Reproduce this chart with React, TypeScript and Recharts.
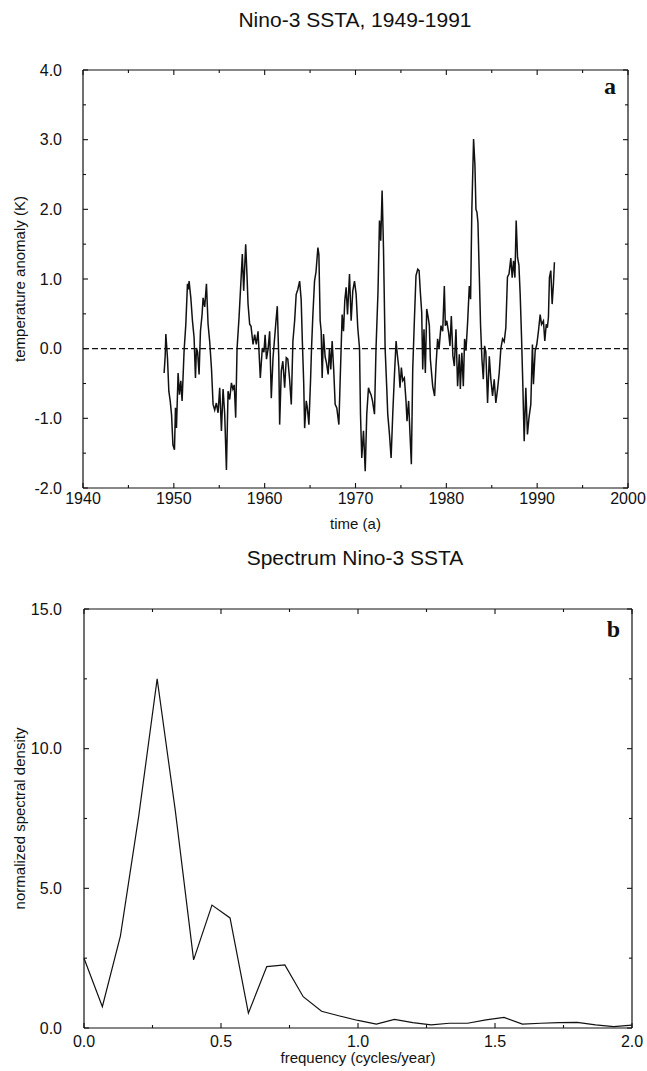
import React from 'react';
import { LineChart, Line, XAxis, YAxis, ReferenceLine, Label } from 'recharts';

// Nino-3 SSTA monthly-ish series (decimal year, K)
const time = [
  1948.93, 1949.05, 1949.12, 1949.3, 1949.45, 1949.6, 1949.75, 1949.9, 1950.07, 1950.18,
  1950.29, 1950.47, 1950.62, 1950.77, 1950.91, 1951.13, 1951.32, 1951.5, 1951.6, 1951.68,
  1951.87, 1952.05, 1952.23, 1952.38, 1952.49, 1952.62, 1952.78, 1952.93, 1953.11, 1953.22,
  1953.4, 1953.59, 1953.77, 1953.95, 1954.15, 1954.32, 1954.5, 1954.68, 1954.87, 1955.05,
  1955.24, 1955.42, 1955.6, 1955.79, 1955.97, 1956.15, 1956.34, 1956.5, 1956.65, 1956.81,
  1956.96, 1957.18, 1957.43, 1957.54, 1957.69, 1957.91, 1958.05, 1958.17, 1958.35, 1958.5,
  1958.72, 1958.9, 1959.08, 1959.27, 1959.52, 1959.74, 1959.92, 1960.05, 1960.2, 1960.38,
  1960.55, 1960.73, 1960.92, 1961.1, 1961.28, 1961.39, 1961.55, 1961.65, 1961.83, 1962.0,
  1962.2, 1962.38, 1962.55, 1962.75, 1962.93, 1963.11, 1963.3, 1963.47, 1963.65, 1963.85,
  1964.02, 1964.15, 1964.3, 1964.4, 1964.58, 1964.7, 1964.87, 1965.05, 1965.16, 1965.31,
  1965.49, 1965.65, 1965.86, 1965.97, 1966.11, 1966.22, 1966.33, 1966.48, 1966.66, 1966.8,
  1966.99, 1967.14, 1967.28, 1967.43, 1967.6, 1967.76, 1967.94, 1968.17, 1968.31, 1968.42,
  1968.53, 1968.68, 1968.82, 1968.97, 1969.12, 1969.34, 1969.52, 1969.7, 1969.89, 1970.07,
  1970.25, 1970.44, 1970.55, 1970.69, 1970.88, 1971.07, 1971.24, 1971.43, 1971.57, 1971.71,
  1971.87, 1972.09, 1972.26, 1972.48, 1972.64, 1972.78, 1972.93, 1973.08, 1973.26, 1973.44,
  1973.55, 1973.74, 1973.92, 1974.1, 1974.29, 1974.47, 1974.6, 1974.76, 1974.9, 1975.05,
  1975.2, 1975.38, 1975.56, 1975.67, 1975.85, 1976.0, 1976.15, 1976.3, 1976.48, 1976.66,
  1976.85, 1977.0, 1977.14, 1977.29, 1977.4, 1977.54, 1977.69, 1977.84, 1978.0, 1978.13,
  1978.24, 1978.5, 1978.71, 1978.86, 1979.04, 1979.2, 1979.41, 1979.6, 1979.78, 1979.89,
  1980.05, 1980.25, 1980.4, 1980.55, 1980.72, 1980.88, 1981.06, 1981.24, 1981.43, 1981.54,
  1981.71, 1981.87, 1982.01, 1982.16, 1982.34, 1982.53, 1982.67, 1982.81, 1983.0, 1983.15,
  1983.26, 1983.37, 1983.48, 1983.63, 1983.77, 1983.92, 1984.07, 1984.21, 1984.35, 1984.54,
  1984.73, 1984.9, 1985.09, 1985.27, 1985.45, 1985.64, 1985.82, 1986.0, 1986.19, 1986.37,
  1986.55, 1986.73, 1986.9, 1987.1, 1987.25, 1987.4, 1987.55, 1987.69, 1987.84, 1987.99,
  1988.13, 1988.28, 1988.42, 1988.57, 1988.75, 1988.93, 1989.1, 1989.3, 1989.48, 1989.59,
  1989.78, 1989.96, 1990.14, 1990.33, 1990.48, 1990.69, 1990.84, 1991.0, 1991.12, 1991.24,
  1991.35, 1991.5, 1991.65, 1991.79, 1991.9,
];
const ssta = [
  -0.35, -0.1, 0.21, -0.13, -0.61, -0.75, -0.95, -1.38, -1.45, -0.85,
  -1.14, -0.35, -0.66, -0.46, -0.75, -0.03, 0.35, 0.93, 0.85, 0.97,
  0.73, 0.4, 0.16, -0.42, 0.01, -0.05, -0.37, 0.25, 0.49, 0.73,
  0.6, 0.93, 0.35, 0.1, -0.3, -0.8, -0.88, -0.78, -0.92, -0.56,
  -1.18, -0.58, -0.94, -1.74, -0.61, -0.73, -0.49, -0.58, -0.52, -0.99,
  0.0, 0.45, 1.07, 1.36, 0.83, 1.5, 1.07, 0.64, 0.35, 0.32,
  0.06, 0.2, 0.06, 0.25, -0.42, 0.01, -0.05, 0.2, -0.15, 0.0,
  0.25, -0.71, -0.13, 0.16, 0.45, 0.61, -0.13, -1.09, -0.32, -0.18,
  -0.56, -0.13, -0.15, -0.45, -0.8, 0.11, 0.4, 0.78, 0.85, 0.97,
  0.7, 0.1, -0.5, -1.14, -0.75, -0.85, -1.09, -0.46, 0.01, 0.49,
  0.97, 1.1, 1.45, 1.35, 0.4, 0.25, -0.42, 0.21, -0.12, -0.2,
  -0.37, 0.01, -0.3, 0.11, -0.3, -0.8, -0.85, -1.09, -0.46, 0.01,
  0.49, 0.25, 0.69, 0.88, 0.49, 1.07, 0.4, 0.83, 0.97, 0.78,
  0.3, 0.01, -0.94, -1.57, -1.18, -1.76, -0.94, -0.56, -0.62, -0.66,
  -0.75, -0.94, 0.01, 0.83, 1.84, 1.55, 2.27, 1.45, 0.01, -0.56,
  -0.94, -1.23, -1.57, -0.94, -0.37, 0.11, -0.08, -0.27, -0.56, -0.27,
  -0.46, -0.42, -0.75, -1.04, -0.75, -1.23, -1.66, -0.3, 0.4, 1.05,
  1.14, 1.12, 0.81, 0.52, -0.3, 0.28, -0.35, 0.57, 0.45, 0.33,
  -0.15, -0.54, -0.68, -0.25, 0.14, 0.0, 0.33, 0.25, 0.9, 0.33,
  0.4, 0.23, 0.04, 0.47, -0.1, -0.25, 0.28, -0.54, -0.08, -0.58,
  -0.06, -0.54, 0.14, -0.03, 0.37, 0.9, 0.71, 2.0, 3.01, 2.63,
  2.0, 1.96, 1.81, 1.05, 0.33, -0.15, -0.44, 0.04, -0.05, -0.78,
  -0.11, -0.44, -0.68, -0.44, -0.78, -0.58, -0.35, 0.0, 0.14, 0.1,
  0.3, 1.03, 1.07, 1.3, 1.02, 1.26, 1.02, 1.84, 1.31, 1.2,
  0.78, 0.16, -0.51, -1.33, -0.56, -1.23, -0.99, -0.8, 0.06, -0.51,
  -0.03, 0.06, 0.25, 0.49, 0.35, 0.4, 0.11, 0.35, 0.3, 0.45,
  1.02, 1.12, 0.64, 0.93, 1.24,
];

// spectrum, panel b
const frequency = [
  0, 0.067, 0.133, 0.2, 0.267, 0.333, 0.4, 0.467, 0.533, 0.6,
  0.667, 0.733, 0.8, 0.867, 0.933, 1.0, 1.067, 1.133, 1.2, 1.267,
  1.333, 1.4, 1.467, 1.533, 1.6, 1.667, 1.733, 1.8, 1.867, 1.933, 2.0,
];
const density = [
  2.5, 0.76, 3.3, 7.6, 12.5, 7.8, 2.44, 4.4, 3.94, 0.53,
  2.2, 2.26, 1.12, 0.6, 0.43, 0.27, 0.14, 0.31, 0.19, 0.11,
  0.17, 0.17, 0.29, 0.38, 0.14, 0.17, 0.19, 0.2, 0.11, 0.05, 0.1,
];

const yearTicks = [1940, 1945, 1950, 1955, 1960, 1965, 1970, 1975, 1980, 1985, 1990, 1995, 2000];
const anomalyTicks = [-2, -1.5, -1, -0.5, 0, 0.5, 1, 1.5, 2, 2.5, 3, 3.5, 4];
const freqTicks = [0, 0.25, 0.5, 0.75, 1, 1.25, 1.5, 1.75, 2];
const densityTicks = [0, 2.5, 5, 7.5, 10, 12.5, 15];

const sstaData = time.map((t, i) => ({ t, v: ssta[i] }));
const specData = frequency.map((f, i) => ({ f, d: density[i] }));

const SANS = '"Liberation Sans", Arial, Helvetica, sans-serif';
const SERIF = '"Liberation Serif", "Times New Roman", serif';
const INK = '#111';
const TICK_FS = 16;

const isMajor = (v: number, step: number) => Math.abs(v / step - Math.round(v / step)) < 1e-6;

// tick renderers draw inward ticks; Recharts gives the label anchor, we back out the frame edge
const bottomTick = (step: number, gap: number, fmt: (v: number) => string) => (p: any) => {
  const major = isMajor(p.payload.value, step);
  const edge = p.y - gap;
  return (
    <g>
      <line x1={p.x} x2={p.x} y1={edge} y2={edge - (major ? 5 : 3)} stroke={INK} strokeWidth={1.1} />
      {major && (
        <text x={p.x} y={p.y} dy="0.71em" textAnchor="middle" fontFamily={SANS} fontSize={TICK_FS} fill={INK}>
          {fmt(p.payload.value)}
        </text>
      )}
    </g>
  );
};

const topTick = (step: number) => (p: any) => {
  const major = isMajor(p.payload.value, step);
  return <line x1={p.x} x2={p.x} y1={p.y} y2={p.y + (major ? 5 : 3)} stroke={INK} strokeWidth={1.1} />;
};

const leftTick = (step: number, gap: number) => (p: any) => {
  const major = isMajor(p.payload.value, step);
  const edge = p.x + gap;
  return (
    <g>
      <line x1={edge} x2={edge + (major ? 5 : 3)} y1={p.y} y2={p.y} stroke={INK} strokeWidth={1.1} />
      {major && (
        <text x={p.x} y={p.y} dy="0.35em" textAnchor="end" fontFamily={SANS} fontSize={TICK_FS} fill={INK}>
          {p.payload.value.toFixed(1)}
        </text>
      )}
    </g>
  );
};

const rightTick = (step: number) => (p: any) => {
  const major = isMajor(p.payload.value, step);
  return <line x1={p.x} x2={p.x - (major ? 5 : 3)} y1={p.y} y2={p.y} stroke={INK} strokeWidth={1.1} />;
};

const yTitle = (text: string) => (p: any) => {
  const vb = p.viewBox;
  const cx = vb.x + 19;
  const cy = vb.y + vb.height / 2;
  return (
    <text x={cx} y={cy} transform={`rotate(-90 ${cx} ${cy})`} textAnchor="middle" dominantBaseline="central"
      fontFamily={SANS} fontSize={15} fill={INK}>
      {text}
    </text>
  );
};

const xTitle = (text: string, lift: number) => (p: any) => {
  const vb = p.viewBox;
  return (
    <text x={vb.x + vb.width / 2} y={vb.y + vb.height - lift} textAnchor="middle" fontFamily={SANS} fontSize={15} fill={INK}>
      {text}
    </text>
  );
};

const panelTag = (text: string, down: number) => (p: any) => {
  const vb = p.viewBox;
  return (
    <text x={vb.x + vb.width - 12} y={vb.y + vb.height + down} textAnchor="end" fontFamily={SERIF} fontWeight="bold"
      fontSize={24} fill={INK}>
      {text}
    </text>
  );
};

const frame = { stroke: INK, strokeWidth: 1.2 };

const titleStyle: React.CSSProperties = {
  position: 'absolute',
  left: 155,
  width: 400,
  textAlign: 'center',
  fontFamily: SANS,
  fontSize: 21,
  color: INK,
  lineHeight: '24px',
};

export default function App() {
  return (
    <div style={{ position: 'absolute', top: 0, left: 0, width: 647, height: 1071, background: '#fff' }}>
      <div style={{ ...titleStyle, top: 8 }}>Nino-3 SSTA, 1949-1991</div>
      <div style={{ position: 'absolute', top: 0, left: 0 }}>
        <LineChart width={647} height={540} data={sstaData} margin={{ top: 69, right: 18, bottom: 0, left: 0 }}>
          <XAxis dataKey="t" type="number" domain={[1940, 2000]} ticks={yearTicks} interval={0}
            height={52} tickSize={0} tickMargin={5} tickLine={false} axisLine={frame}
            tick={bottomTick(10, 5, (v) => String(v))}>
            <Label content={xTitle('time (a)', 11)} />
          </XAxis>
          <XAxis xAxisId="top" orientation="top" dataKey="t" type="number" domain={[1940, 2000]} ticks={yearTicks}
            interval={0} height={1} tickSize={0} tickMargin={0} tickLine={false} axisLine={frame} tick={topTick(10)}>
            <Label content={panelTag('a', 24)} />
          </XAxis>
          <YAxis type="number" domain={[-2, 4]} ticks={anomalyTicks} interval={0} width={83}
            tickSize={0} tickMargin={21} tickLine={false} axisLine={frame} tick={leftTick(1, 21)}>
            <Label content={yTitle('temperature anomaly (K)')} />
          </YAxis>
          <YAxis yAxisId="right" orientation="right" type="number" domain={[-2, 4]} ticks={anomalyTicks} interval={0}
            width={1} tickSize={0} tickMargin={0} tickLine={false} axisLine={frame} tick={rightTick(1)} />
          <ReferenceLine y={0} stroke={INK} strokeWidth={1.2} strokeDasharray="6 3" />
          <Line type="linear" dataKey="v" stroke={INK} strokeWidth={1.5} dot={false} isAnimationActive={false} />
          {/* invisible twin so the top/right frame axes are drawn */}
          <Line xAxisId="top" yAxisId="right" type="linear" dataKey="v" stroke="none" dot={false}
            activeDot={false} legendType="none" isAnimationActive={false} />
        </LineChart>
      </div>

      <div style={{ ...titleStyle, top: 546 }}>Spectrum Nino-3 SSTA</div>
      <div style={{ position: 'absolute', top: 530, left: 0 }}>
        <LineChart width={647} height={541} data={specData} margin={{ top: 78, right: 14, bottom: 0, left: 0 }}>
          <XAxis dataKey="f" type="number" domain={[0, 2]} ticks={freqTicks} interval={0}
            height={43} tickSize={0} tickMargin={8} tickLine={false} axisLine={frame}
            tick={bottomTick(0.5, 8, (v) => v.toFixed(1))}>
            <Label content={xTitle('frequency (cycles/year)', 8)} />
          </XAxis>
          <XAxis xAxisId="top" orientation="top" dataKey="f" type="number" domain={[0, 2]} ticks={freqTicks}
            interval={0} height={1} tickSize={0} tickMargin={0} tickLine={false} axisLine={frame} tick={topTick(0.5)}>
            <Label content={panelTag('b', 28)} />
          </XAxis>
          <YAxis type="number" domain={[0, 15]} ticks={densityTicks} interval={0} width={84}
            tickSize={0} tickMargin={22} tickLine={false} axisLine={frame} tick={leftTick(5, 22)}>
            <Label content={yTitle('normalized spectral density')} />
          </YAxis>
          <YAxis yAxisId="right" orientation="right" type="number" domain={[0, 15]} ticks={densityTicks} interval={0}
            width={1} tickSize={0} tickMargin={0} tickLine={false} axisLine={frame} tick={rightTick(5)} />
          <Line type="linear" dataKey="d" stroke={INK} strokeWidth={1.2} dot={false} isAnimationActive={false} />
          <Line xAxisId="top" yAxisId="right" type="linear" dataKey="d" stroke="none" dot={false}
            activeDot={false} legendType="none" isAnimationActive={false} />
        </LineChart>
      </div>
    </div>
  );
}
